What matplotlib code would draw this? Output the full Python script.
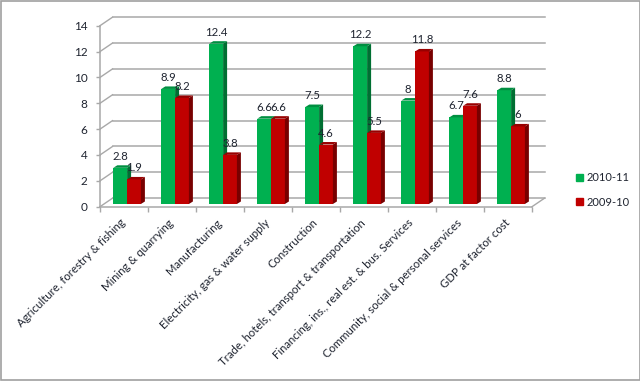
import matplotlib
matplotlib.use("Agg")
import matplotlib.pyplot as plt
from matplotlib.patches import Polygon, Patch, Rectangle

categories = [
    "Agriculture, forestry & fishing",
    "Mining & quarrying",
    "Manufacturing",
    "Electricity, gas & water supply",
    "Construction",
    "Trade, hotels, transport & transportation",
    "Financing, ins., real est. & bus. Services",
    "Community, social & personal services",
    "GDP at factor cost",
]
growth_2010 = [2.8, 8.9, 12.4, 6.6, 7.5, 12.2, 8, 6.7, 8.8]
growth_2009 = [1.9, 8.2, 3.8, 6.6, 4.6, 5.5, 11.8, 7.6, 6]
y_ticks = [0, 2, 4, 6, 8, 10, 12, 14]

GREEN = ("#00b050", "#006f32", "#008f41")
RED = ("#c00000", "#780000", "#980000")
GRID = "#a8a8a8"
TEXT = "#1f2430"

plt.rcParams["font.family"] = ["Lato", "DejaVu Sans"]

W, H = 640, 381
fig = plt.figure(figsize=(W / 100, H / 100), dpi=100)
ax = fig.add_axes([100 / W, 1 - 206.7 / H, 432 / W, 181 / H])
ax.set_xlim(0, 9)
ax.set_ylim(0, 14)
ax.patch.set_alpha(0)

# one data unit in pixels, used for the fake 3d depth
ux = 1 / 48
uy = 14 / 181
wall_dx = 12.5 * ux
wall_dy = 8.5 * uy
bar_dx = 4 * ux
bar_dy = 2.5 * uy
bar_w = 13.8 * ux
bar_x0 = 13.3 * ux
base = 2.7 * uy

# walls and floor
for t in y_ticks:
    ax.plot([wall_dx, 9 + wall_dx], [t + wall_dy, t + wall_dy], color=GRID, lw=1.1, clip_on=False, zorder=1)
    ax.plot([0, wall_dx], [t, t + wall_dy], color=GRID, lw=1, clip_on=False, zorder=1)
ax.plot([9, 9 + wall_dx], [0, wall_dy], color=GRID, lw=1, clip_on=False, zorder=1)


def draw_bar(x, v, colors, z):
    front, side, top = colors
    y0, y1 = base, base + v
    ax.bar(x, v, bar_w, bottom=y0, align="edge", color=front, lw=0, zorder=z)
    ax.add_patch(Polygon([(x + bar_w, y0), (x + bar_w + bar_dx, y0 + bar_dy),
                          (x + bar_w + bar_dx, y1 + bar_dy), (x + bar_w, y1)],
                         fc=side, lw=0, clip_on=False, zorder=z))
    ax.add_patch(Polygon([(x, y1), (x + bar_dx, y1 + bar_dy),
                          (x + bar_w + bar_dx, y1 + bar_dy), (x + bar_w, y1)],
                         fc=top, lw=0, clip_on=False, zorder=z))


for i, (a, b) in enumerate(zip(growth_2010, growth_2009)):
    draw_bar(i + bar_x0, a, GREEN, 3)
    draw_bar(i + bar_x0 + bar_w, b, RED, 4)

for i, (a, b) in enumerate(zip(growth_2010, growth_2009)):
    ax.text(i + bar_x0 + bar_w / 2, a + base + 11.5 * uy, str(a), ha="center", va="center",
            fontsize=8.2, color=TEXT, zorder=6, clip_on=False)
    ax.text(i + bar_x0 + bar_w * 1.5, b + base + 11.5 * uy, str(b), ha="center", va="center",
            fontsize=8.2, color=TEXT, zorder=6, clip_on=False)

for s in ["top", "right"]:
    ax.spines[s].set_visible(False)
for s in ["left", "bottom"]:
    ax.spines[s].set_color(GRID)
    ax.spines[s].set_linewidth(1.1)

ax.set_yticks(y_ticks)
ax.set_xticks(range(10))
ax.set_xticklabels([])
ax.tick_params(axis="y", length=3, width=1, color=GRID, labelsize=8.5, labelcolor=TEXT, pad=6)
ax.tick_params(axis="x", length=3.5, width=1, color=GRID)

for i, c in enumerate(categories):
    ax.annotate(c, xy=(i + 0.5, 0), xytext=(-3, -7.5), textcoords="offset points",
                ha="right", va="top", rotation=45, rotation_mode="anchor",
                fontsize=8.2, color=TEXT, annotation_clip=False)

handles = [Patch(color=GREEN[0], label="2010-11"), Patch(color=RED[0], label="2009-10")]
fig.legend(handles=handles, loc="center left", bbox_to_anchor=(566 / W, 1 - 190 / H), frameon=False,
           fontsize=8, labelcolor=TEXT, handlelength=0.65, handleheight=0.65, handletextpad=0.3,
           labelspacing=1.2)

# picture frame
fig.add_artist(Rectangle((0.5 / W, 1 - 379.5 / H), 639 / W, 379 / H, transform=fig.transFigure,
                         fill=False, ec="#a0a0a0", lw=1.2))

fig.savefig("out.png", dpi=100, facecolor="white")
